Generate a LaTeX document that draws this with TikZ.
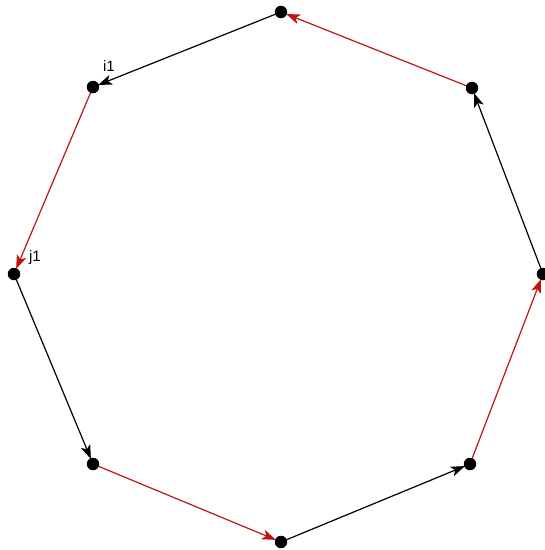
\documentclass[tikz,border=0pt]{standalone}
\usepackage{fontspec}
\setmainfont{Liberation Sans}
\usetikzlibrary{arrows.meta}

\begin{document}
\begin{tikzpicture}[
  x=1pt, y=-1pt,
  dot/.style={circle, fill=black, inner sep=0pt, minimum size=12.5pt},
  lbl/.style={font=\fontsize{15}{17}\selectfont, inner sep=1pt},
  arrow/.style={-{Stealth[length=14pt, width=10pt, inset=3.5pt]}, line width=1.2pt, shorten >=-1pt},
  redarrow/.style={arrow, draw={rgb,255:red,190;green,20;blue,20}}
]
\useasboundingbox (0,0) rectangle (545,550);
\node[dot] (top) at (281,12) {};
\node[dot] (ul) at (93,87) {};
\node[dot] (l) at (14,274) {};
\node[dot] (ll) at (93,464) {};
\node[dot] (bot) at (281,542) {};
\node[dot] (lr) at (470,464) {};
\node[dot] (r) at (543,274) {};
\node[dot] (ur) at (472,88) {};
\node[lbl] (i1) at (109,66) {i1};
\node[lbl] (j1) at (35,258) {j1};

\draw[arrow] (top) -- (ul);
\draw[redarrow] (ul) -- (l);
\draw[arrow] (l) -- (ll);
\draw[redarrow] (ll) -- (bot);
\draw[arrow] (bot) -- (lr);
\draw[redarrow] (lr) -- (r);
\draw[arrow] (r) -- (ur);
\draw[redarrow] (ur) -- (top);
\end{tikzpicture}
\end{document}
